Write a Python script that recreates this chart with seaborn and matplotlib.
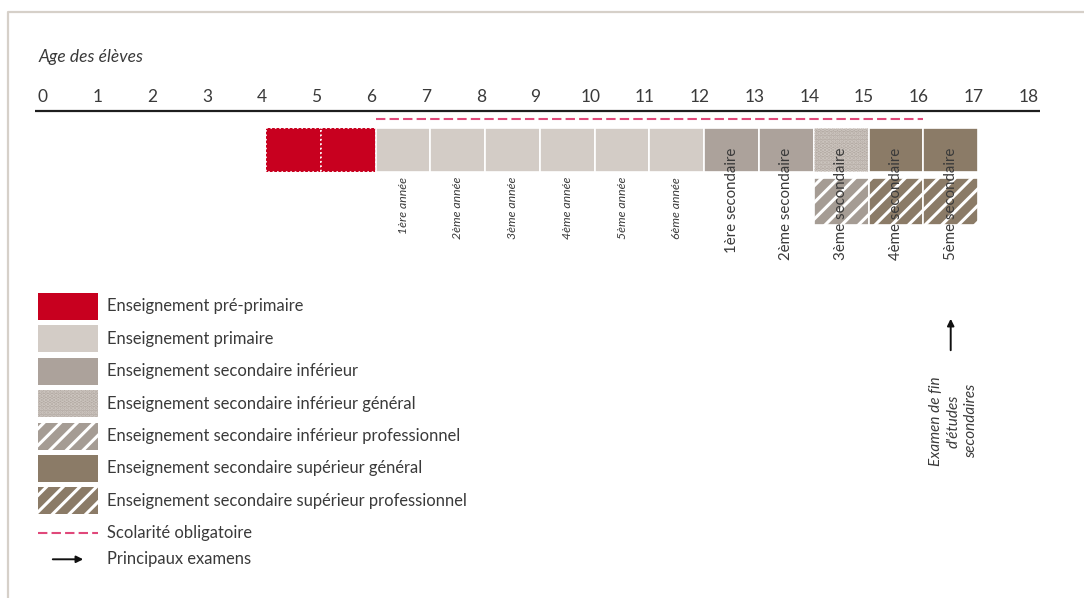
import matplotlib
matplotlib.use("Agg")
import matplotlib.pyplot as plt
import seaborn as sns

# Data: school system timeline
ages = list(range(0, 19))

cell_start = [4, 5, 6, 7, 8, 9, 10, 11, 12, 13, 14, 15, 16, 14, 15, 16]
cell_end = [5, 6, 7, 8, 9, 10, 11, 12, 13, 14, 15, 16, 17, 15, 16, 17]
cell_level = ['pre', 'pre', 'prim', 'prim', 'prim', 'prim', 'prim', 'prim',
              'sec_inf', 'sec_inf', 'sec_inf_gen', 'sec_sup_gen', 'sec_sup_gen',
              'sec_inf_pro', 'sec_sup_pro', 'sec_sup_pro']
cell_row = [0, 0, 0, 0, 0, 0, 0, 0, 0, 0, 0, 0, 0, 1, 1, 1]
cell_label = ['', '', '1ère année', '2ème année', '3ème année', '4ème année',
              '5ème année', '6ème année', '1ère secondaire', '2ème secondaire',
              '3ème secondaire', '4ème secondaire', '5ème secondaire', '', '', '']

levels = ['pre', 'prim', 'sec_inf', 'sec_inf_gen', 'sec_inf_pro', 'sec_sup_gen', 'sec_sup_pro']
level_names = ['Enseignement pré-primaire', 'Enseignement primaire',
               'Enseignement secondaire inférieur', 'Enseignement secondaire inférieur général',
               'Enseignement secondaire inférieur professionnel',
               'Enseignement secondaire supérieur général',
               'Enseignement secondaire supérieur professionnel']
level_colors = ['#C8001F', '#D3CCC6', '#ACA29B', '#B3AAA3', '#A59C94', '#8B7B67', '#8B7B67']
level_hatch = ['', '', '', '....', '//', '', '//']

compulsory = [6, 16]
exam_age = 16.5
exam_label = "Examen de fin\nd'études\nsecondaires"

sns.set_theme(style='white')
plt.rcParams['font.family'] = ['Lato', 'DejaVu Sans']
plt.rcParams['hatch.linewidth'] = 2.2
text_col = '#3A3A3A'

fig = plt.figure(figsize=(10.84, 5.98), dpi=100)
# main timeline axes: x in years, y in pixels
ax = fig.add_axes([0, 0, 1, 1])
px0, pxy = 47, 54.77
ax.set_xlim(-px0 / pxy, (1084 - px0) / pxy)
ax.set_ylim(598, 0)
ax.axis('off')

ax.text(-0.16, 57, 'Age des élèves', style='italic', fontsize=12.5, color=text_col,
        ha='left', va='center')
for a in ages:
    ax.text(a - 0.08, 97, str(a), fontsize=12.5, color=text_col, ha='center', va='center')
ax.plot([ages[0] - 0.22, ages[-1] + 0.13], [111, 111], color='#1E1E1E', lw=1.6,
        solid_capstyle='butt')
ax.plot(compulsory, [119, 119], color='#E0487A', lw=1.5, linestyle=(0, (4.5, 2)))

row_top = [128, 178]
row_h = [44, 47]
color_of = dict(zip(levels, level_colors))
hatch_of = dict(zip(levels, level_hatch))
for s, e, lev, r in zip(cell_start, cell_end, cell_level, cell_row):
    h = hatch_of[lev]
    ls = ':' if lev == 'pre' else '-'
    ax.barh(row_top[r] + row_h[r] / 2, e - s, left=s, height=row_h[r],
            color=color_of[lev], edgecolor='white', lw=1.2, linestyle=ls)
    if h:
        hc = 'white' if '/' in h else '#CFC8C2'
        ax.barh(row_top[r] + row_h[r] / 2, e - s, left=s, height=row_h[r],
                color='none', edgecolor=hc, lw=0, hatch=h)

for s, e, lab in zip(cell_start, cell_end, cell_label):
    if not lab:
        continue
    if 'année' in lab:
        ax.text((s + e) / 2, 177, lab, rotation=90, style='italic', fontsize=8.8,
                color=text_col, ha='center', va='top')
    else:
        ax.text((s + e) / 2, 148, lab, rotation=90, fontsize=10.8,
                color=text_col, ha='center', va='top')

# exam arrow
ax.annotate('', xy=(exam_age, 316), xytext=(exam_age, 353),
            arrowprops=dict(arrowstyle='-|>', color='#111111', lw=1.4, mutation_scale=10))
ax.text(exam_age + 0.05, 421, exam_label, rotation=90, style='italic', fontsize=11,
        color=text_col, ha='center', va='center', multialignment='center',
        linespacing=1.3)

# legend axes in pixels
lg = fig.add_axes([0, 0, 1, 1])
lg.set_xlim(0, 1084)
lg.set_ylim(598, 0)
lg.axis('off')
lg.plot([8, 8, 1084], [598, 12, 12], color='#D6D0C9', lw=1.6)

row0, pitch = 306.5, 32.4
for i, (lev, name) in enumerate(zip(levels, level_names)):
    y = row0 + i * pitch
    lg.barh(y, 60, left=38, height=27, color=color_of[lev], lw=0)
    if hatch_of[lev]:
        hc = 'white' if '/' in hatch_of[lev] else '#CFC8C2'
        lg.barh(y, 60, left=38, height=27, color='none', edgecolor=hc, lw=0,
                hatch=hatch_of[lev])
    lg.text(107, y, name, fontsize=11.9, color=text_col, ha='left', va='center')

y_dash = row0 + 7 * pitch
lg.plot([38, 98], [y_dash, y_dash], color='#E0487A', lw=1.5, linestyle=(0, (4.5, 2)))
lg.text(107, y_dash, 'Scolarité obligatoire', fontsize=11.9, color=text_col,
        ha='left', va='center')
y_arr = y_dash + 26
lg.annotate('', xy=(86, y_arr), xytext=(50, y_arr),
            arrowprops=dict(arrowstyle='-|>', color='#111111', lw=1.4, mutation_scale=10))
lg.text(107, y_arr, 'Principaux examens', fontsize=11.9, color=text_col,
        ha='left', va='center')

fig.savefig('out.png', dpi=100, facecolor='white')
